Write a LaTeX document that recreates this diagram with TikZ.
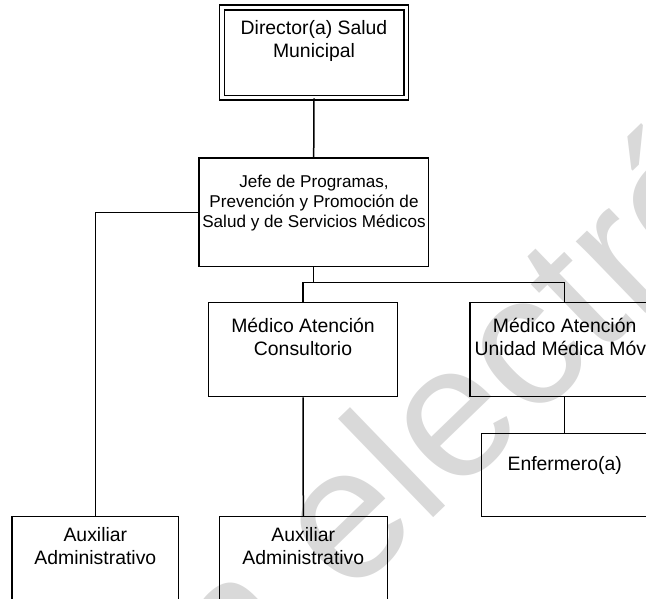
\documentclass[tikz,border=0pt]{standalone}
\usepackage{fontspec}
\setmainfont{Liberation Sans}
\usetikzlibrary{calc}
\definecolor{wmgray}{RGB}{217,217,217}
\newcommand{\boxlines}[1]{\begin{tabular}[t]{@{}c@{}}#1\end{tabular}}
\begin{document}
\begin{tikzpicture}[x=1pt,y=-1pt,
  box/.style 2 args={draw, line width=1.5pt, inner sep=0pt, minimum width=#1, minimum height=#2},
  dirbox/.style={draw, double, line width=1.3pt, double distance=3.5pt, inner sep=0pt, minimum width=184.5pt, minimum height=90.1pt},
  lbl/.style={inner sep=0pt, anchor=base, font=\fontsize{19.4}{22.3}\selectfont},
  lblsmall/.style={inner sep=0pt, anchor=base, font=\fontsize{17.1}{20}\selectfont},
  wm/.style={inner sep=0pt, rotate=44, text=wmgray, font=\fontsize{189}{189}\selectfont},
  conn/.style={line width=1.5pt}]
\useasboundingbox (0,0) rectangle (646,599);
\clip (0,0) rectangle (646,599);
% watermark
\coordinate (wmo) at (424.4,526.5);
\node[wm, anchor=base east] (wm1) at (wmo) {Versión e};
\node[wm, anchor=base west] (wm2) at (wmo) {lectrónica};
% boxes
\node[dirbox] (dir) at (314,52.6) {};
\node[box={229.3pt}{108.7pt}] (jefe) at (313.7,212.3) {};
\node[box={188.6pt}{94pt}] (cons) at (303,349.7) {};
\node[box={189.4pt}{94pt}] (uni) at (564.7,349.7) {};
\node[box={166.8pt}{83.4pt}] (enf) at (564.7,475) {};
\node[box={166.7pt}{83.4pt}] (aux1) at (95.35,558.4) {};
\node[box={168pt}{83.4pt}] (aux2) at (303.3,558.4) {};
% texts
\node[lbl] (tdir) at (314,35) {\boxlines{Director(a) Salud\\Municipal}};
\node[lblsmall] (tjefe) at (314,187.7) {\boxlines{Jefe de Programas,\\Prevención y Promoción de\\Salud y de Servicios Médicos}};
\node[lbl] (tcons) at (303,332.7) {\boxlines{Médico Atención\\Consultorio}};
\node[lbl] (tuni) at (564.7,332.7) {\boxlines{Médico Atención\\Unidad Médica Móvil}};
\node[lbl] (tenf) at (564.7,470.7) {Enfermero(a)};
\node[lbl] (taux1) at (95.35,541.7) {\boxlines{Auxiliar\\Administrativo}};
\node[lbl] (taux2) at (303.3,541.7) {\boxlines{Auxiliar\\Administrativo}};
% connectors
\draw[conn] (dir.south) -- (jefe.north);
\draw[conn] (jefe.west) -| (aux1.north);
\coordinate (bus) at ($(jefe.south)+(0,15.3)$);
\draw[conn] (jefe.south) -- (bus);
\draw[conn] (cons.north) |- (bus) -| (uni.north);
\draw[conn] (cons.south) -- (aux2.north);
\draw[conn] (uni.south) -- (enf.north);
\end{tikzpicture}
\end{document}
